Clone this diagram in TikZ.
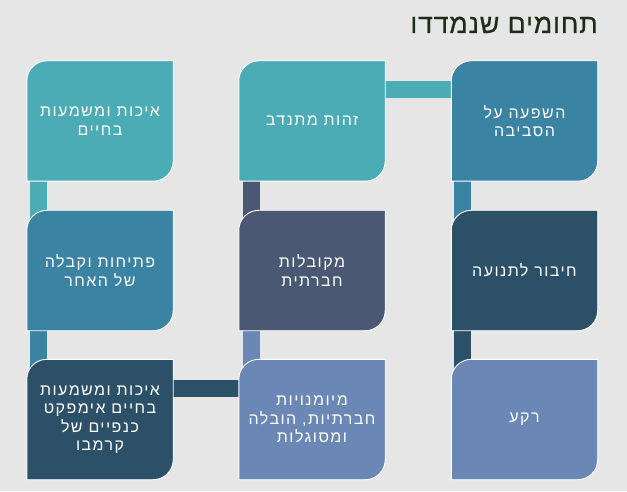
\documentclass[tikz,border=0pt]{standalone}
\usepackage{fontspec}
\setmainfont{Liberation Sans}
\newfontfamily\hebfont[Script=Hebrew,LetterSpace=9]{Liberation Sans}
\newfontfamily\hebtitle[Script=Hebrew,LetterSpace=3,FakeBold=0.6]{Liberation Sans}
\TeXXeTstate=1
\usetikzlibrary{calc}
\pgfdeclarelayer{bottom}
\pgfdeclarelayer{bars}
\pgfdeclarelayer{tiles}
\pgfsetlayers{bottom,bars,tiles,main}
\definecolor{bgc}{HTML}{E6E6E6}
\definecolor{cteal}{HTML}{4BACB5}
\definecolor{cblue}{HTML}{3A83A3}
\definecolor{cslate}{HTML}{4A5874}
\definecolor{cdark}{HTML}{2B5068}
\definecolor{cperi}{HTML}{6B87B5}
\definecolor{ctitle}{HTML}{1F2D16}
\tikzset{
  boxnode/.style={rectangle, draw=none, minimum width=146pt, minimum height=120pt,
    inner sep=0pt, text=white, align=center,
    font=\hebfont\fontsize{16}{18.5}\selectfont},
  titlenode/.style={text=ctitle, inner sep=0pt, font=\hebtitle\fontsize{26.8}{30}\selectfont},
  bar/.style={line width=17pt, draw=#1}
}
\newcommand\tile[2]{\filldraw[fill=#2,draw=white,line width=0.9pt]
  (#1.south west) -- ([yshift=-20pt]#1.north west)
  arc[start angle=180,end angle=90,radius=20pt] -- (#1.north east)
  -- ([yshift=20pt]#1.south east)
  arc[start angle=0,end angle=-90,radius=20pt] -- cycle;}
\newcommand\R[1]{\beginR #1\endR}
\begin{document}
\begin{tikzpicture}[x=1pt,y=1pt]
\begin{pgfonlayer}{bottom}
\fill[bgc] (0,0) rectangle (627,491);
\end{pgfonlayer}
\node[titlenode, anchor=base east] (title) at (598,458) {\R{תחומים שנמדדו}};
% row 1
\node[boxnode] (b11) at (100,370) {\R{איכות ומשמעות}\\\R{בחיים}};
\node[boxnode] (b12) at (312,370) {\R{זהות מתנדב}};
\node[boxnode] (b13) at (524.5,370) {\R{השפעה על}\\\R{הסביבה}};
% row 2
\node[boxnode] (b21) at (100,220.5) {\R{פתיחות וקבלה}\\\R{של האחר}};
\node[boxnode] (b22) at (312,220.5) {\R{מקובלות}\\\R{חברתית}};
\node[boxnode] (b23) at (524.5,220.5) {\R{חיבור לתנועה}};
% row 3
\node[boxnode] (b31) at (100,71.5) {\R{איכות ומשמעות}\\\R{בחיים אימפקט}\\\R{כנפיים של}\\\R{קרמבו}};
\node[boxnode] (b32) at (312,71.5) {\R{מיומנויות}\\\R{חברתיות, הובלה}\\\R{ומסוגלות}};
\node[boxnode] (b33) at (524.5,71.5) {\R{רקע}};
\begin{pgfonlayer}{tiles}
\tile{b11}{cteal}
\tile{b12}{cteal}
\tile{b13}{cblue}
\tile{b21}{cblue}
\tile{b22}{cslate}
\tile{b23}{cdark}
\tile{b31}{cdark}
\tile{b32}{cperi}
\tile{b33}{cperi}
\end{pgfonlayer}
\begin{pgfonlayer}{bars}
% column 3, upward
\draw[bar=cdark] ([xshift=11.5pt,yshift=-20pt]b33.north west) -- ([xshift=11.5pt,yshift=5pt]b23.south west);
\draw[bar=cblue] ([xshift=11.5pt,yshift=-20pt]b23.north west) -- ([xshift=11.5pt,yshift=5pt]b13.south west);
% row 1, leftward
\draw[bar=cteal] ([xshift=5pt,yshift=-29pt]b13.north west) -- ([xshift=-5pt,yshift=-29pt]b12.north east);
% column 2, downward
\draw[bar=cslate] ([xshift=12.5pt,yshift=5pt]b12.south west) -- ([xshift=12.5pt,yshift=-20pt]b22.north west);
\draw[bar=cperi] ([xshift=12.5pt,yshift=5pt]b22.south west) -- ([xshift=12.5pt,yshift=-20pt]b32.north west);
% row 3, leftward
\draw[bar=cdark] ([xshift=5pt,yshift=-29pt]b32.north west) -- ([xshift=-5pt,yshift=-29pt]b31.north east);
% column 1, upward
\draw[bar=cblue] ([xshift=11.5pt,yshift=-20pt]b31.north west) -- ([xshift=11.5pt,yshift=5pt]b21.south west);
\draw[bar=cteal] ([xshift=11.5pt,yshift=-20pt]b21.north west) -- ([xshift=11.5pt,yshift=5pt]b11.south west);
\end{pgfonlayer}
\end{tikzpicture}
\end{document}
